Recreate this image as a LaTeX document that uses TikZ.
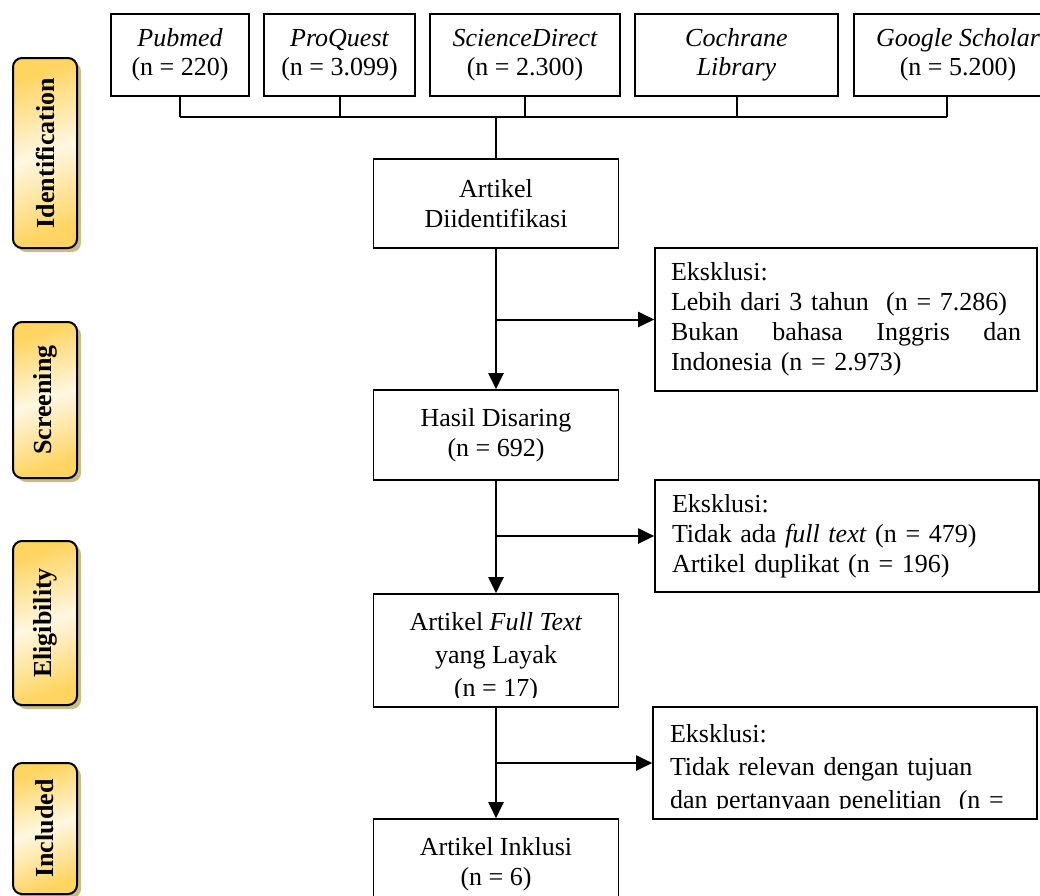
\documentclass[tikz,border=0pt]{standalone}
\usepackage{fontspec}
\setmainfont{Liberation Serif}
\usetikzlibrary{arrows.meta, positioning, shadows}

\definecolor{labgold}{RGB}{255,212,96}
\definecolor{labcream}{RGB}{255,247,226}
\definecolor{labshadow}{RGB}{198,188,140}

\begin{document}
\begin{tikzpicture}[
    x=1pt, y=-1pt,
    font=\fontsize{26}{30}\selectfont,
    box/.style={draw, line width=1.6pt, inner sep=0pt, align=center},
    srcbox/.style={box, minimum height=82pt, font=\fontsize{26}{29}\selectfont\itshape},
    mainbox/.style={box, minimum width=245pt},
    exbox/.style={box, align=left, text width=350pt},
    phase/.style={draw, line width=2pt, rounded corners=9pt,
      minimum width=64pt, inner sep=0pt, font=\fontsize{26}{30}\selectfont\bfseries,
      left color=labgold, right color=labgold, middle color=labcream, shading angle=20,
      drop shadow={shadow xshift=4pt, shadow yshift=-4pt, fill=labshadow, opacity=1}},
    line/.style={line width=2pt},
    arr/.style={line, -{Triangle[length=16pt, width=15pt]}}
  ]
  \useasboundingbox (0,0) rectangle (1040,895);
  \clip (0,0) rectangle (1040,895);

  % phases
  \node[phase, minimum height=190pt] (pIdent) at (45,153) {\rotatebox{90}{Identification}};
  \node[phase, minimum height=156pt] (pScreen) at (45,400) {\rotatebox{90}{Screening}};
  \node[phase, minimum height=164pt] (pElig) at (45,623) {\rotatebox{90}{Eligibility}};
  \node[phase, minimum height=131pt] (pIncl) at (45,828.5) {\rotatebox{90}{Included}};

  % sources
  \node[srcbox, minimum width=138pt] (pubmed) at (180,55) {Pubmed\\\upshape(n = 220)};
  \node[srcbox, minimum width=151pt] (proquest) at (339.5,55) {ProQuest\\\upshape(n = 3.099)};
  \node[srcbox, minimum width=190pt] (sciencedirect) at (525,55) {ScienceDirect\\\upshape(n = 2.300)};
  \node[srcbox, minimum width=203pt] (cochrane) at (736.5,55) {Cochrane\\Library};
  \node[srcbox, minimum width=208pt] (scholar) at (958,55) {Google Scholar\\\upshape(n = 5.200)};

  % main column
  \node[mainbox, minimum height=89pt] (ident) at (496,203.5) {Artikel\\Diidentifikasi};
  \node[mainbox, minimum height=90pt] (screen) at (496,435) {Hasil Disaring\\(n = 692)};
  \node[mainbox, minimum height=113pt] (fulltext) at (496,650.5) {};
  \begin{scope}
    \clip (fulltext.north west) rectangle ([yshift=10pt]fulltext.south east);
    \node[align=center, font=\fontsize{26}{33}\selectfont] (fulltextTxt) at ([yshift=-7pt]fulltext.center)
      {Artikel \textit{Full Text}\\yang Layak\\(n = 17)};
  \end{scope}
  \node[mainbox, minimum height=90pt] (incl) at (496,864) {Artikel Inklusi\\(n = 6)};

  % exclusions
  \node[exbox, minimum width=382pt, minimum height=143pt] (ex1) at (846,319.5)
    {Eksklusi:\\Lebih dari 3 tahun~ (n = 7.286)\\Bukan\hfill bahasa\hfill Inggris\hfill dan\\Indonesia (n = 2.973)};
  \node[exbox, minimum width=384pt, minimum height=112pt] (ex2) at (847,536)
    {Eksklusi:\\Tidak ada \textit{full text} (n = 479)\\Artikel duplikat (n = 196)};
  \node[exbox, minimum width=384pt, minimum height=112pt] (ex3) at (845,763) {};
  \begin{scope}
    \clip (ex3.north west) rectangle ([yshift=11pt]ex3.south east);
    \node[align=left, text width=350pt, font=\fontsize{26}{33}\selectfont] (ex3Txt) at ([yshift=-6pt]ex3.center)
      {Eksklusi:\\Tidak relevan dengan tujuan\\dan pertanyaan penelitian~ (n =};
  \end{scope}

  % connectors
  \coordinate (bus) at (496,117);
  \foreach \src in {pubmed, proquest, sciencedirect, cochrane}
    \draw[line] (\src.south) -- (\src.south |- bus);
  \draw[line] ([xshift=-11pt]scholar.south) -- ([xshift=-11pt]scholar.south |- bus);
  \draw[line] (pubmed.south |- bus) -- ([xshift=-11pt]scholar.south |- bus);
  \draw[line] (bus) -- (ident.north);

  \draw[arr] (ident) -- (screen);
  \draw[arr] (screen) -- (fulltext);
  \draw[arr] (fulltext) -- (incl);
  \draw[arr] (ident.south |- ex1.west) -- (ex1.west);
  \draw[arr] (screen.south |- ex2.west) -- (ex2.west);
  \draw[arr] (fulltext.south |- ex3.west) -- (ex3.west);
\end{tikzpicture}
\end{document}
